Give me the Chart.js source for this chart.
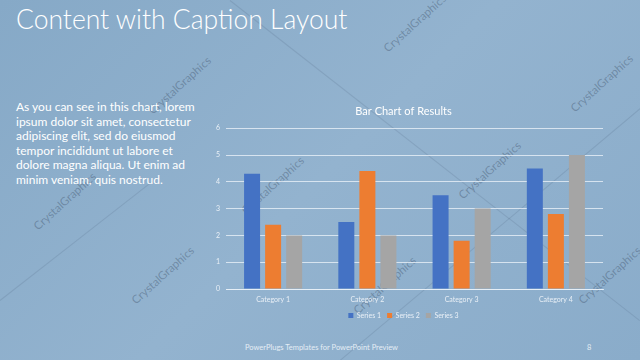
<!DOCTYPE html>
<html>
<head>
<meta charset="utf-8">
<script src="https://cdn.jsdelivr.net/npm/chart.js@4"></script>
<style>
  html, body { margin: 0; padding: 0; }
  body {
    width: 640px; height: 360px; overflow: hidden; position: relative;
    background: linear-gradient(135deg, #86a9c7 0%, #93b3cf 50%, #8aacca 100%);
    font-family: Lato, "Open Sans", sans-serif;
  }
  #title {
    position: absolute; left: 16px; top: 3px; color: #fff;
    font-size: 26.5px; font-weight: 300; white-space: nowrap;
  }
  #caption {
    position: absolute; left: 16px; top: 100px; color: #fff;
    font-size: 12px; line-height: 14.5px; white-space: nowrap;
  }
  #footer {
    position: absolute; left: 245px; top: 343px; color: #e4edf5;
    font-size: 7.5px; white-space: nowrap;
  }
  #page {
    position: absolute; left: 587px; top: 343px; color: #e4edf5; font-size: 7.5px;
  }
  .wm {
    position: absolute; color: rgba(70, 90, 115, 0.45); font-size: 11.5px;
    transform: rotate(-42deg); transform-origin: left center; white-space: nowrap;
  }
  .ln {
    position: absolute; height: 1px; background: rgba(70, 95, 120, 0.18);
    transform-origin: left center;
  }
  #wrap { position: absolute; left: 0; top: 0; width: 640px; height: 360px; }
</style>
</head>
<body>
<div class="ln" style="left:0;top:300px;width:200px;transform:rotate(-38deg)"></div>
<div class="ln" style="left:230px;top:0;width:520px;transform:rotate(38deg)"></div>
<div class="ln" style="left:340px;top:360px;width:420px;transform:rotate(-40deg)"></div>

<div class="wm" style="left:150px;top:105px">CrystalGraphics</div>
<div class="wm" style="left:572px;top:103px">CrystalGraphics</div>
<div class="wm" style="left:35px;top:221px">CrystalGraphics</div>
<div class="wm" style="left:133px;top:295px">CrystalGraphics</div>
<div class="wm" style="left:243px;top:205px">CrystalGraphics</div>
<div class="wm" style="left:460px;top:190px">CrystalGraphics</div>
<div class="wm" style="left:355px;top:305px">CrystalGraphics</div>
<div class="wm" style="left:580px;top:295px">CrystalGraphics</div>
<div class="wm" style="left:385px;top:43px">CrystalGraphics</div>

<div id="title">Content with Caption Layout</div>
<div id="caption">As you can see in this chart, lorem<br>ipsum dolor sit amet, consectetur<br>adipiscing elit, sed do eiusmod<br>tempor incididunt ut labore et<br>dolore magna aliqua. Ut enim ad<br>minim veniam, quis nostrud.</div>
<div id="footer">PowerPlugs Templates for PowerPoint Preview</div>
<div id="page">8</div>

<div id="wrap"><canvas id="myChart" width="640" height="360"></canvas></div>

<script>
const categories = ['Category 1', 'Category 2', 'Category 3', 'Category 4']
const series1 = [4.3, 2.5, 3.5, 4.5]
const series2 = [2.4, 4.4, 1.8, 2.8]
const series3 = [2, 2, 3, 5]
const seriesNames = ['Series 1', 'Series 2', 'Series 3']
const colors = ['#4472C4', '#ED7D31', '#A5A5A5']

const ctx = document.getElementById('myChart')
new Chart(ctx, {
    type: 'bar',
    data: {
        labels: categories,
        datasets: [series1, series2, series3].map((data, i) => ({
            label: seriesNames[i],
            data,
            backgroundColor: colors[i],
            borderWidth: 0,
            barPercentage: 0.76,
            categoryPercentage: 0.67
        }))
    },
    options: {
        responsive: false,
        animation: false,
        layout: { padding: { left: 204, right: 37, top: 105, bottom: 31 } },
        scales: {
            y: {
                min: 0, max: 6,
                ticks: { stepSize: 1, color: '#e8eff6', font: { size: 7, family: 'Lato' }, padding: 6 },
                grid: { color: 'rgba(232,240,247,0.8)', drawTicks: false },
                border: { display: false },
                afterFit: scale => { scale.width = 22 }
            },
            x: {
                ticks: { color: '#e8eff6', font: { size: 7, family: 'Lato' }, padding: 7 },
                grid: { display: false, drawTicks: false },
                border: { color: 'rgba(232,240,247,0.8)' },
                afterFit: scale => { scale.height = 17 }
            }
        },
        plugins: {
            title: {
                display: true, text: 'Bar Chart of Results', color: '#fff',
                font: { size: 11, family: 'Lato', weight: 'normal' },
                padding: { top: 0, bottom: 10 }
            },
            legend: {
                position: 'bottom',
                labels: { color: '#e8eff6', font: { size: 7, family: 'Lato' }, boxWidth: 5, boxHeight: 5, padding: 6 }
            },
            tooltip: { enabled: false }
        }
    }
})
</script>
</body>
</html>
